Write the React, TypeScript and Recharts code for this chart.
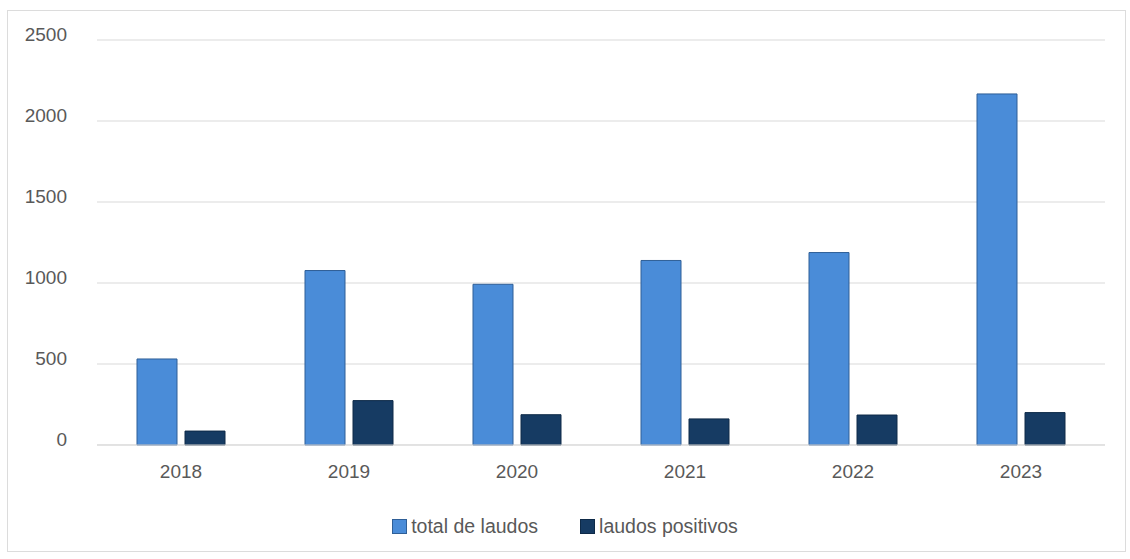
import React from 'react';
import { BarChart, Bar, XAxis, YAxis, CartesianGrid, Legend } from 'recharts';

// Annual counts of reports
const years = ['2018', '2019', '2020', '2021', '2022', '2023'];
const totalLaudos = [531, 1077, 992, 1139, 1188, 2167];
const laudosPositivos = [86, 274, 187, 161, 185, 200];
const yTicks = [0, 500, 1000, 1500, 2000, 2500];

// Series styling, in legend order
const seriesNames = ['total de laudos', 'laudos positivos'];
const seriesFill = ['#4A8CD8', '#163B63'];
const seriesStroke = ['#2F5F97', '#0E2A48'];

const data = years.map((year, i) => ({
  year,
  total: totalLaudos[i],
  positivos: laudosPositivos[i],
}));

const FONT = "'Liberation Sans', Arial, sans-serif";
const TEXT_COLOR = '#595959';

const YTick = (props: any) => {
  const { x, y, payload } = props;
  return (
    <text x={x} y={y - 6} dy="0.355em" textAnchor="end" fontSize={19} fontFamily={FONT} fill={TEXT_COLOR}>
      {payload.value}
    </text>
  );
};

const XTick = (props: any) => {
  const { x, y, payload } = props;
  return (
    <text x={x} y={y + 24} dy="0.355em" textAnchor="middle" fontSize={19} fontFamily={FONT} fill={TEXT_COLOR}>
      {payload.value}
    </text>
  );
};

const LegendContent = () => (
  <div style={{ display: 'flex', justifyContent: 'center', alignItems: 'center' }}>
    {seriesNames.map((name, i) => (
      <div key={name} style={{ display: 'flex', alignItems: 'center', margin: '0 21px' }}>
        <span
          style={{
            display: 'inline-block',
            width: 15,
            height: 15,
            background: seriesFill[i],
            border: `1px solid ${seriesStroke[i]}`,
            marginRight: 4,
            boxSizing: 'border-box',
          }}
        />
        <span style={{ fontFamily: FONT, fontSize: 19.5, color: TEXT_COLOR }}>{name}</span>
      </div>
    ))}
  </div>
);

export default function App() {
  return (
    <div style={{ position: 'absolute', left: 0, top: 0, width: 1130, height: 559, background: '#ffffff' }}>
      <div
        style={{
          position: 'absolute',
          left: 7,
          top: 10,
          width: 1119,
          height: 542,
          border: '1px solid #dcdcdc',
          boxSizing: 'border-box',
        }}
      />
      <BarChart
        width={1130}
        height={559}
        data={data}
        margin={{ top: 40, right: 25, bottom: 84, left: 0 }}
        barCategoryGap={40}
        barGap={8}
      >
        <CartesianGrid vertical={false} stroke="#d9d9d9" />
        <XAxis
          dataKey="year"
          height={30}
          tickLine={false}
          axisLine={{ stroke: '#d9d9d9' }}
          tickSize={0}
          tick={<XTick />}
        />
        <YAxis
          width={97}
          domain={[0, 2500]}
          ticks={yTicks}
          tickLine={false}
          axisLine={false}
          tickSize={0}
          tickMargin={30}
          tick={<YTick />}
        />
        <Legend
          layout="horizontal"
          verticalAlign="middle"
          align="center"
          wrapperStyle={{ top: 515, left: 0, width: 1130 }}
          content={<LegendContent />}
        />
        <Bar
          dataKey="total"
          name={seriesNames[0]}
          fill={seriesFill[0]}
          stroke={seriesStroke[0]}
          strokeWidth={1}
          isAnimationActive={false}
        />
        <Bar
          dataKey="positivos"
          name={seriesNames[1]}
          fill={seriesFill[1]}
          stroke={seriesStroke[1]}
          strokeWidth={1}
          isAnimationActive={false}
        />
      </BarChart>
    </div>
  );
}
